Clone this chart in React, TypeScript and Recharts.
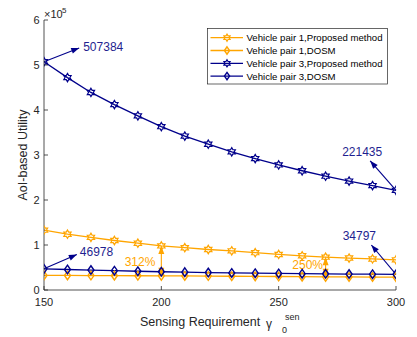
import React from "react";
import { LineChart, Line, XAxis, YAxis, ReferenceLine, Legend } from "recharts";

// sensing requirement (x) and the four utility series
const sensing = [150, 160, 170, 180, 190, 200, 210, 220, 230, 240, 250, 260, 270, 280, 290, 300];
const pair1Proposed = [133000, 124000, 117000, 110000, 104000, 98000, 94000, 90000, 87000, 83000, 79000, 76000, 73000, 71000, 69000, 67000];
const pair1Dosm = [32500, 32300, 32100, 31900, 31700, 31400, 31200, 30900, 30600, 30300, 30000, 29700, 29200, 29000, 28800, 28600];
const pair3Proposed = [507384, 472000, 439000, 412000, 387000, 363000, 342000, 324000, 307000, 292000, 278000, 265000, 253000, 242000, 232000, 221435];
const pair3Dosm = [46978, 45600, 44300, 42900, 41700, 40600, 39700, 38800, 38000, 37400, 36800, 36300, 35900, 35500, 35100, 34797];

const xTicks = [150, 200, 250, 300];
const yTicks = [0, 100000, 200000, 300000, 400000, 500000, 600000];

const NAVY = "#00008B";
const NAVY_TEXT = "#1f1f90";
const ORANGE = "#FFA500";
const AXIS = "#262626";
const FONT = "'Liberation Sans', Arial, Helvetica, sans-serif";

const data = sensing.map((s, i) => ({
  s,
  p1p: pair1Proposed[i],
  p1d: pair1Dosm[i],
  p3p: pair3Proposed[i],
  p3d: pair3Dosm[i],
}));

function hexagram(cx: number, cy: number, r: number) {
  const pts: string[] = [];
  for (let k = 0; k < 12; k++) {
    const a = (-90 + k * 30) * (Math.PI / 180);
    const rr = k % 2 === 0 ? r : r / Math.sqrt(3);
    pts.push(`${(cx + rr * Math.cos(a)).toFixed(2)},${(cy + rr * Math.sin(a)).toFixed(2)}`);
  }
  return pts.join(" ");
}

const Marker = ({ kind, cx, cy, color, s = 1 }: { kind: string; cx: number; cy: number; color: string; s?: number }) =>
  kind === "star" ? (
    <polygon points={hexagram(cx, cy, 4.2 * s)} fill="none" stroke={color} strokeWidth={1.2} />
  ) : (
    <polygon
      points={`${cx},${cy - 4.3 * s} ${cx + 3 * s},${cy} ${cx},${cy + 4.3 * s} ${cx - 3 * s},${cy}`}
      fill="none"
      stroke={color}
      strokeWidth={1.4}
    />
  );

const dotOf = (kind: string, color: string) => (props: any) => {
  const { cx, cy, index } = props;
  if (cx == null || cy == null) return <g key={`n-${kind}-${index}`} />;
  return <Marker key={`${kind}-${color}-${index}`} kind={kind} cx={cx} cy={cy} color={color} />;
};

function head(xt: number, yt: number, xf: number, yf: number, color: string) {
  const a = Math.atan2(yt - yf, xt - xf);
  const len = 8;
  const half = 3;
  const bx = xt - len * Math.cos(a);
  const by = yt - len * Math.sin(a);
  const px = -Math.sin(a) * half;
  const py = Math.cos(a) * half;
  return <polygon points={`${xt},${yt} ${bx + px},${by + py} ${bx - px},${by - py}`} fill={color} />;
}

const arrowShape =
  (text: string, color: string, textColor: string, anchor: "start" | "middle" | "end", dx: number, dy: number, both: boolean) =>
  (p: any) => {
    const { x1, y1, x2, y2 } = p;
    const tx = (both ? x1 : x2) + dx;
    const ty = (both ? (y1 + y2) / 2 : y2) + dy;
    return (
      <g>
        <line x1={x1} y1={y1} x2={x2} y2={y2} stroke={color} strokeWidth={1.1} />
        {head(x2, y2, x1, y1, color)}
        {both && head(x1, y1, x2, y2, color)}
        <text x={tx} y={ty} textAnchor={anchor} fontSize={12} fill={textColor} fontFamily={FONT}>
          {text}
        </text>
      </g>
    );
  };

const legendItems = [
  { name: "Vehicle pair 1,Proposed method", color: ORANGE, kind: "star" },
  { name: "Vehicle pair 1,DOSM", color: ORANGE, kind: "diamond" },
  { name: "Vehicle pair 3,Proposed method", color: NAVY, kind: "star" },
  { name: "Vehicle pair 3,DOSM", color: NAVY, kind: "diamond" },
];

const LegendBox = () => (
  <svg width={181} height={57} style={{ display: "block" }}>
    <rect x={0.5} y={0.5} width={180} height={55.5} fill="#fff" stroke={AXIS} strokeWidth={0.7} />
    {legendItems.map((it, i) => {
      const y = 9.7 + i * 12.8;
      return (
        <g key={it.name}>
          <line x1={3.5} x2={36} y1={y} y2={y} stroke={it.color} strokeWidth={1.3} />
          <Marker kind={it.kind} cx={20} cy={y} color={it.color} s={0.85} />
          <text x={39.5} y={y + 3.4} fontSize={9.6} fill="#000" fontFamily={FONT}>
            {it.name}
          </text>
        </g>
      );
    })}
  </svg>
);

const XTick = (props: any) => {
  const { x, y, payload } = props;
  const axisY = y - 16;
  return (
    <g>
      <line x1={x} x2={x} y1={axisY} y2={axisY - 4} stroke={AXIS} strokeWidth={0.8} />
      <text x={x} y={y} textAnchor="middle" fontSize={11} fill={AXIS} fontFamily={FONT}>
        {payload.value}
      </text>
    </g>
  );
};

const YTick = (props: any) => {
  const { x, y, payload } = props;
  const axisX = x + 4;
  return (
    <g>
      <line x1={axisX} x2={axisX + 4} y1={y} y2={y} stroke={AXIS} strokeWidth={0.8} />
      <text x={x - 0.5} y={y + 4} textAnchor="end" fontSize={11} fill={AXIS} fontFamily={FONT}>
        {payload.value / 100000}
      </text>
    </g>
  );
};

const YLabel = (props: any) => {
  const vb = props.viewBox;
  const cx = vb.x + 9;
  const cy = vb.y + vb.height / 2;
  const ax = vb.x + vb.width;
  return (
    <g fontFamily={FONT} fill={AXIS}>
      <text x={cx} y={cy} transform={`rotate(-90 ${cx} ${cy})`} textAnchor="middle" dominantBaseline="central" fontSize={12.5}>
        AoI-based Utility
      </text>
      <text x={ax} y={vb.y - 2.5} fontSize={11}>
        ×10
      </text>
      <text x={ax + 18} y={vb.y - 7} fontSize={8}>
        5
      </text>
    </g>
  );
};

const XLabel = (props: any) => {
  const vb = props.viewBox;
  const left = vb.x + vb.width / 2 - 80;
  const base = vb.y + 36;
  return (
    <g fontFamily={FONT} fill={AXIS}>
      <text x={left} y={base} fontSize={12.5}>
        Sensing Requirement
      </text>
      <text x={left + 126} y={base + 1.5} fontSize={12}>
        γ
      </text>
      <text x={left + 145} y={base - 6} fontSize={9}>
        sen
      </text>
      <text x={left + 142} y={base + 7} fontSize={9}>
        0
      </text>
    </g>
  );
};

export default function App() {
  return (
    <div style={{ position: "absolute", left: 0, top: 0, width: 417, height: 337, background: "#fff" }}>
      <LineChart width={417} height={337} data={data} margin={{ top: 20, right: 21, bottom: 17, left: 14 }}>
        <XAxis
          dataKey="s"
          type="number"
          domain={[150, 300]}
          ticks={xTicks}
          allowDataOverflow
          height={30}
          tickSize={0}
          tickMargin={16}
          tickLine={false}
          axisLine={{ stroke: AXIS, strokeWidth: 0.8 }}
          tick={<XTick />}
          label={<XLabel />}
        />
        <YAxis
          type="number"
          domain={[0, 600000]}
          ticks={yTicks}
          allowDataOverflow
          width={30}
          tickSize={0}
          tickMargin={4}
          tickLine={false}
          axisLine={{ stroke: AXIS, strokeWidth: 0.8 }}
          tick={<YTick />}
          label={<YLabel />}
        />
        <Legend
          layout="vertical"
          align="center"
          verticalAlign="middle"
          wrapperStyle={{ left: 206.5, top: 28, width: 181, height: 57 }}
          content={() => <LegendBox />}
        />
        <Line dataKey="p1p" stroke={ORANGE} strokeWidth={1.3} dot={dotOf("star", ORANGE)} isAnimationActive={false} />
        <Line dataKey="p1d" stroke={ORANGE} strokeWidth={1.3} dot={dotOf("diamond", ORANGE)} isAnimationActive={false} />
        <Line dataKey="p3p" stroke={NAVY} strokeWidth={1.3} dot={dotOf("star", NAVY)} isAnimationActive={false} />
        <Line dataKey="p3d" stroke={NAVY} strokeWidth={1.3} dot={dotOf("diamond", NAVY)} isAnimationActive={false} />

        <ReferenceLine
          segment={[{ x: 150, y: pair3Proposed[0] }, { x: 165, y: 538000 }]}
          shape={arrowShape(String(pair3Proposed[0]), NAVY, NAVY_TEXT, "start", 4, 3.4, false)}
        />
        <ReferenceLine
          segment={[{ x: 150, y: pair3Dosm[0] }, { x: 164, y: 79000 }]}
          shape={arrowShape(String(pair3Dosm[0]), NAVY, NAVY_TEXT, "start", 3, 1.5, false)}
        />
        <ReferenceLine
          segment={[{ x: 300, y: pair3Proposed[15] }, { x: 289, y: 287000 }]}
          shape={arrowShape(String(pair3Proposed[15]), NAVY, NAVY_TEXT, "middle", -8, -5, false)}
        />
        <ReferenceLine
          segment={[{ x: 300, y: pair3Dosm[15] }, { x: 289.5, y: 100000 }]}
          shape={arrowShape(String(pair3Dosm[15]), NAVY, NAVY_TEXT, "middle", -12, -4.7, false)}
        />
        <ReferenceLine
          segment={[{ x: 200, y: pair1Dosm[5] }, { x: 200, y: pair1Proposed[5] }]}
          shape={arrowShape("312%", ORANGE, ORANGE, "end", -6, 5, true)}
        />
        <ReferenceLine
          segment={[{ x: 270, y: pair1Dosm[12] }, { x: 270, y: pair1Proposed[12] }]}
          shape={arrowShape("250%", ORANGE, ORANGE, "end", -2.6, 2.3, true)}
        />
      </LineChart>
    </div>
  );
}
